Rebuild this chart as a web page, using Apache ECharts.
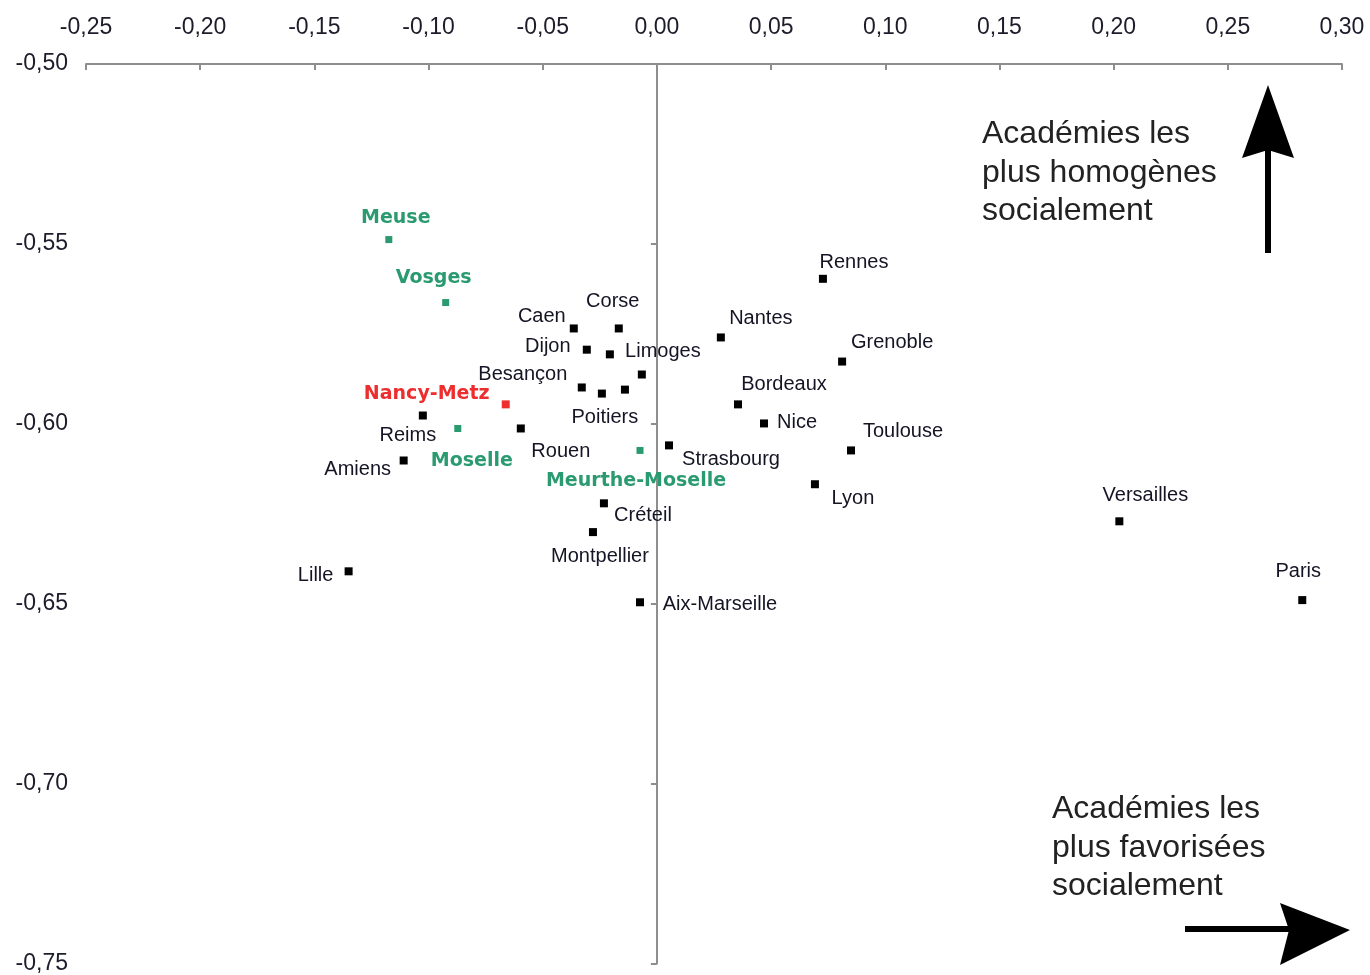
<!DOCTYPE html>
<html><head><meta charset="utf-8">
<script src="https://cdn.jsdelivr.net/npm/echarts@6/dist/echarts.min.js"></script>
<style>html,body{margin:0;padding:0;background:#fff}#c{width:1370px;height:975px}</style>
</head><body><div id="c"></div>
<script>
// ---- DATA ----
const academies = ['Rennes','Nantes','Grenoble','Bordeaux','Nice','Toulouse','Lyon','Strasbourg','Versailles','Paris','Caen','Corse','Dijon','Limoges','Besançon','Poitiers','Clermont-Ferrand','Orléans-Tours','Reims','Rouen','Amiens','Créteil','Montpellier','Lille','Aix-Marseille'];
const academiesX = [0.0727,0.0280,0.0811,0.0355,0.0469,0.0850,0.0692,0.0053,0.2025,0.2826,-0.0364,-0.0167,-0.0307,-0.0206,-0.0329,-0.0241,-0.0066,-0.0140,-0.1025,-0.0596,-0.1109,-0.0232,-0.0280,-0.1350,-0.0074];
const academiesY = [-0.5597,-0.5760,-0.5827,-0.5946,-0.5999,-0.6074,-0.6168,-0.6060,-0.6271,-0.6490,-0.5735,-0.5735,-0.5794,-0.5807,-0.5899,-0.5916,-0.5863,-0.5905,-0.5977,-0.6013,-0.6102,-0.6221,-0.6301,-0.6410,-0.6496];
const unlabeled = ['Clermont-Ferrand','Orléans-Tours'];
const departements = ['Meuse','Vosges','Moselle','Meurthe-Moselle'];
const departementsX = [-0.1174,-0.0925,-0.0872,-0.0074];
const departementsY = [-0.5488,-0.5663,-0.6013,-0.6074];
const region = ['Nancy-Metz'];
const regionX = [-0.0662];
const regionY = [-0.5946];
const xTicks = {min:-0.25, max:0.30, step:0.05};
const yTicks = {min:-0.75, max:-0.50, step:0.05};

// ---- LAYOUT (label offsets, px) ----
const labelOffsets = {
  'Rennes':[31,-16],'Nantes':[40,-19],'Grenoble':[50,-19],'Bordeaux':[46,-20],'Nice':[33,-1],
  'Toulouse':[52,-19],'Lyon':[38,14],'Strasbourg':[62,14],'Versailles':[26,-26],'Paris':[-4,-29],
  'Caen':[-32,-12],'Corse':[-6,-27],'Dijon':[-39,-3],'Limoges':[53,-3],'Besançon':[-59,-13],
  'Poitiers':[3,24],'Reims':[-15,20],'Rouen':[40,23],'Amiens':[-46,9],'Créteil':[39,12],
  'Montpellier':[7,24],'Lille':[-33,4],'Aix-Marseille':[80,2],
  'Meuse':[7,-22],'Vosges':[-12,-24],'Moselle':[14,33],'Meurthe-Moselle':[-4,31],'Nancy-Metz':[-79,-10]
};

function build(names, xs, ys) {
  return names.map((n, i) => {
    const hide = unlabeled.indexOf(n) >= 0;
    return {
      name: n,
      value: [xs[i], ys[i]],
      label: hide ? {show:false} : {show:true, offset: labelOffsets[n] || [0,-15]}
    };
  });
}
const fmt = v => v.toFixed(2).replace('.', ',');
const GREEN = '#2a9a70', RED = '#ee2e2e';

const chart = echarts.init(document.getElementById('c'), null, {renderer:'canvas'});
chart.setOption({
  animation: false,
  backgroundColor: '#fff',
  grid: {left:86, right:28, top:64, bottom:10, containLabel:false},
  xAxis: {
    type:'value', position:'top', min:xTicks.min, max:xTicks.max, interval:xTicks.step,
    axisLine:{show:true, onZero:false, lineStyle:{color:'#8e8e8e', width:2}},
    axisTick:{show:true, inside:true, length:6, lineStyle:{color:'#8e8e8e', width:2}},
    splitLine:{show:false},
    axisLabel:{formatter:fmt, margin:25, fontSize:23, fontFamily:'Liberation Sans', color:'#1c1c2a', showMinLabel:true, showMaxLabel:true}
  },
  yAxis: [{
    type:'value', position:'left', min:yTicks.min, max:yTicks.max, interval:yTicks.step,
    axisLine:{show:false, onZero:false}, axisTick:{show:false}, splitLine:{show:false},
    axisLabel:{formatter:fmt, margin:18, fontSize:23, fontFamily:'Liberation Sans', color:'#1c1c2a', showMinLabel:true, showMaxLabel:true}
  },{
    type:'value', position:'left', min:yTicks.min, max:yTicks.max, interval:yTicks.step,
    axisLine:{show:true, onZero:true, lineStyle:{color:'#8e8e8e', width:2}},
    axisTick:{show:true, inside:false, length:6, lineStyle:{color:'#8e8e8e', width:2}},
    axisLabel:{show:false}, splitLine:{show:false}
  }],
  series: [{
    type:'scatter', symbol:'rect', symbolSize:8,
    itemStyle:{color:'#000', opacity:1},
    label:{position:'inside', formatter:'{b}', fontSize:20, fontFamily:'Liberation Sans', color:'#141424', opacity:1},
    data: build(academies, academiesX, academiesY)
  },{
    type:'scatter', symbol:'rect', symbolSize:[7,7],
    itemStyle:{color:GREEN, opacity:1},
    label:{position:'inside', formatter:'{b}', fontSize:19, fontWeight:'bold', fontFamily:'DejaVu Sans', color:GREEN, opacity:1},
    data: build(departements, departementsX, departementsY)
  },{
    type:'scatter', symbol:'rect', symbolSize:8,
    itemStyle:{color:RED, opacity:1},
    label:{position:'inside', formatter:'{b}', fontSize:19, fontWeight:'bold', fontFamily:'DejaVu Sans', color:RED, opacity:1},
    data: build(region, regionX, regionY)
  }],
  graphic: [
    {type:'text', left:982, top:115, style:{text:'Académies les\nplus homogènes\nsocialement', font:'32px "Liberation Sans"', lineHeight:38.5, fill:'#222'}},
    {type:'text', left:1052, top:790, style:{text:'Académies les\nplus favorisées\nsocialement', font:'32px "Liberation Sans"', lineHeight:38.5, fill:'#222'}},
    {type:'rect', shape:{x:1265, y:148, width:6, height:105}, style:{fill:'#000'}},
    {type:'polygon', shape:{points:[[1268,85],[1294,158],[1268,150],[1242,158]]}, style:{fill:'#000'}},
    {type:'rect', shape:{x:1185, y:926, width:107, height:6}, style:{fill:'#000'}},
    {type:'polygon', shape:{points:[[1350,930],[1280,965],[1289,930],[1280,903]]}, style:{fill:'#000'}}
  ]
});
</script></body></html>
